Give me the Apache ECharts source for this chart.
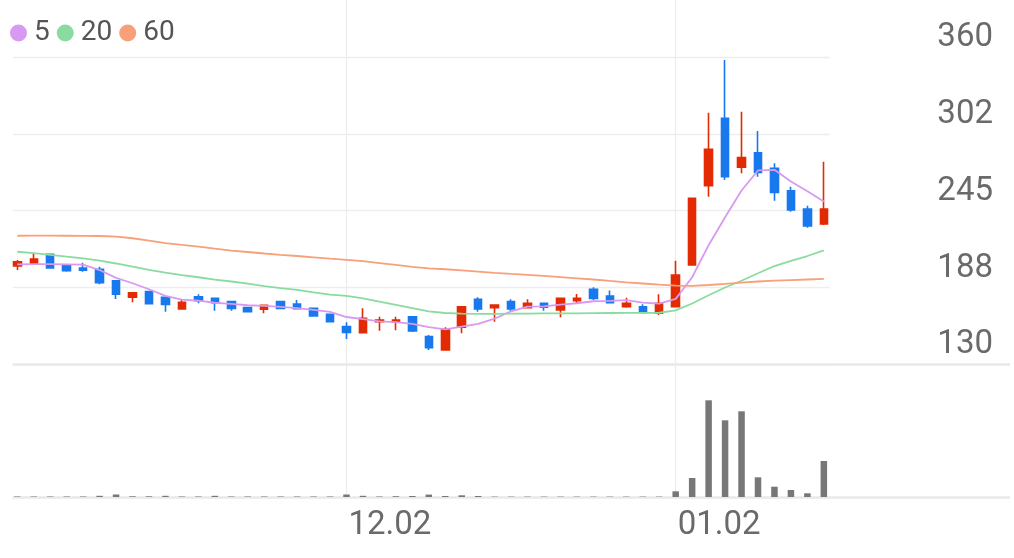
<!DOCTYPE html>
<html><head><meta charset="utf-8">
<script src="https://cdn.jsdelivr.net/npm/echarts/dist/echarts.min.js"></script>
<style>html,body{margin:0;padding:0;background:#fff}#c{width:1014px;height:558px}</style>
</head><body><div id="c"></div>
<script>
// ---- data ----
const dates = ['11.04','11.05','11.06','11.07','11.08','11.11','11.12','11.13','11.14','11.15',
  '11.18','11.19','11.20','11.21','11.22','11.25','11.26','11.27','11.28','11.29',
  '12.02','12.03','12.04','12.05','12.06','12.09','12.10','12.11','12.12','12.13',
  '12.16','12.17','12.18','12.19','12.20','12.23','12.24','12.26','12.27','12.30',
  '01.02','01.03','01.06','01.07','01.08','01.09','01.10','01.13','01.14','01.15'];
const opens  = [203.4,204.9,212.2,204.2,201.9,200.9,192.4,180.0,184.2,180.0,
  171.2,180.4,179.2,176.7,172.2,171.0,176.7,175.0,171.7,167.2,
  158.0,153.4,161.7,161.5,165.4,150.5,140.5,157.5,178.5,172.2,
  176.7,172.2,175.5,170.5,177.4,186.0,181.0,172.9,172.9,168.0,
  172.9,204.2,263.6,314.1,277.4,288.3,276.6,259.8,246.1,234.9];
const closes = [206.6,208.7,201.9,199.9,200.2,190.9,182.2,183.4,175.2,174.7,
  176.2,177.4,175.9,171.7,169.2,174.0,171.7,171.5,166.0,161.7,
  153.7,164.2,163.0,163.0,154.7,142.2,156.0,172.9,171.2,174.2,
  171.2,175.5,172.5,179.2,179.2,179.2,175.9,175.5,168.7,175.5,
  196.7,254.1,290.9,270.3,284.6,273.6,258.6,245.4,233.4,246.1];
const lows   = [200.4,204.2,201.5,199.1,199.1,189.7,178.7,176.2,175.0,169.2,
  171.0,175.5,169.9,169.9,169.0,168.0,171.0,171.3,165.8,161.5,
  148.7,153.0,155.0,155.3,154.0,140.5,140.3,153.0,169.2,161.7,
  169.2,171.8,169.9,165.0,175.0,178.0,175.7,172.2,168.0,166.7,
  172.5,204.0,255.3,267.9,272.9,270.3,252.3,244.0,232.1,234.1];
const highs  = [207.9,212.9,212.5,204.5,205.9,202.9,192.6,183.6,184.5,180.3,
  178.0,182.2,179.4,177.0,172.4,174.2,177.0,178.0,172.0,167.4,
  161.2,171.7,165.4,165.4,165.6,151.7,157.5,173.0,180.0,174.5,
  178.5,178.5,175.8,179.4,182.4,187.5,185.0,179.7,174.7,182.2,
  207.4,254.5,318.3,357.8,319.0,304.6,280.4,262.8,248.6,281.6];
const ma5  = [204.7,204.8,204.8,204.7,204.4,200.4,194.5,190.5,186.0,181.0,
  178.2,177.4,175.9,175.0,174.0,173.5,172.8,171.8,170.6,169.0,
  165.2,163.6,162.0,161.3,160.0,157.6,155.9,158.0,160.0,164.0,
  169.5,173.0,173.2,174.5,175.5,177.0,177.3,177.8,176.0,175.3,
  178.8,195.0,219.0,240.0,260.0,275.0,275.5,266.8,259.4,251.8];
const ma20 = [214.1,213.0,211.7,210.4,209.2,207.4,205.3,202.9,200.6,198.4,
  196.6,195.0,193.2,191.8,190.2,188.4,186.9,185.5,183.6,182.0,
  181.0,179.2,176.8,174.3,171.8,169.5,168.2,167.8,167.6,167.6,
  167.7,167.8,167.9,168.0,168.0,168.1,168.2,168.3,168.3,168.4,
  170.2,175.3,181.5,187.3,192.4,198.0,203.4,207.2,210.9,215.2];
const ma60 = [226.1,226.2,226.2,226.1,226.0,225.9,225.4,224.2,222.5,220.6,
  219.2,218.0,216.4,215.0,213.9,212.8,211.8,210.9,209.9,208.9,
  208.0,207.0,205.6,204.2,202.8,201.7,201.0,200.1,199.2,198.3,
  197.5,196.8,196.0,195.1,194.2,193.3,192.2,191.2,190.3,189.4,
  188.7,188.5,189.2,190.0,191.0,191.8,192.4,192.9,193.3,193.7];
const volumes = [50,50,50,50,50,120,250,70,70,120,
  50,50,120,50,50,50,50,50,50,50,
  250,120,50,80,100,240,100,170,100,40,
  40,40,40,40,40,40,40,40,40,40,
  570,1900,9670,7670,8570,1970,1030,700,370,3600];
const yTickLabels = ['130','188','245','302','360'];
const maNames = ['5','20','60'];

// ---- layout / style ----
const RED = '#e32a02', BLUE = '#1879ee';
const MA_COLORS = ['#d89af0', '#8adba0', '#f7a07a'];
const PLOT_LEFT = 12.7, PRICE_RIGHT = 830, VOL_RIGHT = 1010, FIRST_CX = 17.3, STEP = 16.46;
const xMin = -(FIRST_CX - PLOT_LEFT) / STEP;
const priceXMax = xMin + (PRICE_RIGHT - PLOT_LEFT) / STEP;
const volXMax = xMin + (VOL_RIGHT - PLOT_LEFT) / STEP;
const lastCX = FIRST_CX + (dates.length - 1) * STEP;
const FONT = 'Roboto';

const isMonthStart = (i) => i > 0 && dates[i].slice(0, 2) !== dates[i - 1].slice(0, 2);

const chart = echarts.init(document.getElementById('c'), null, {renderer: 'canvas'});
const maSeries = [ma5, ma20, ma60].map((arr, k) => ({
  type: 'line', name: maNames[k], xAxisIndex: 0, yAxisIndex: 0,
  data: arr.map((v, i) => [i, v]), showSymbol: false, symbol: 'none', silent: true,
  lineStyle: {width: 1.8, color: MA_COLORS[k]}, itemStyle: {color: MA_COLORS[k]}, z: 4
}));

chart.setOption({
  animation: false,
  backgroundColor: '#fff',
  legend: {
    left: 10, top: 19, padding: 0, icon: 'circle', itemWidth: 17, itemHeight: 17, itemGap: 7,
    data: maNames, selectedMode: false,
    textStyle: {fontSize: 28, color: '#555', fontFamily: FONT, padding: [0, 0, 0, 2]}
  },
  grid: [
    {left: PLOT_LEFT, right: 1014 - PRICE_RIGHT, top: 57, height: 307, outerBoundsMode: 'none'},
    {left: PLOT_LEFT, right: 1014 - VOL_RIGHT, top: 364, height: 133, outerBoundsMode: 'none'},
    {left: FIRST_CX, right: 1014 - lastCX, top: 0, height: 497, outerBoundsMode: 'none'}
  ],
  xAxis: [
    {gridIndex: 0, type: 'value', min: xMin, max: priceXMax, show: false},
    {gridIndex: 1, type: 'value', min: xMin, max: volXMax, show: false},
    {gridIndex: 2, type: 'category', data: dates, boundaryGap: false,
      axisLine: {show: false}, axisTick: {show: false},
      splitLine: {show: true, interval: (i) => isMonthStart(i), lineStyle: {color: '#ececec', width: 1.2}},
      axisLabel: {interval: (i) => isMonthStart(i), align: 'left', padding: [0, 0, 0, 2], margin: 12,
        fontSize: 33, color: '#6a6a6a', fontFamily: FONT}}
  ],
  yAxis: [
    {gridIndex: 0, type: 'value', position: 'right', min: 130, max: 360, interval: 57.5,
      axisLine: {show: false}, axisTick: {show: false},
      splitLine: {show: true, lineStyle: {color: '#eeeeee', width: 1.3}},
      axisLabel: {margin: 163, align: 'right', verticalAlign: 'bottom', lineHeight: 38,
        fontSize: 33, color: '#6a6a6a', fontFamily: FONT,
        formatter: (v, idx) => yTickLabels[idx] !== undefined ? yTickLabels[idx] : ''}},
    {gridIndex: 1, type: 'value', min: 0, max: 13300, interval: 13300,
      axisLine: {show: false}, axisTick: {show: false}, axisLabel: {show: false},
      splitLine: {show: true, lineStyle: {color: '#e9e9e9', width: 2.6}}},
    {gridIndex: 2, type: 'value', min: 0, max: 1, show: false, splitLine: {show: false}}
  ],
  series: [
    {type: 'bar', name: 'vol', xAxisIndex: 1, yAxisIndex: 1, silent: true,
      data: volumes.map((v, i) => [i, v]), barWidth: 6.5, itemStyle: {color: '#777777'}},
    {type: 'candlestick', name: 'price', xAxisIndex: 0, yAxisIndex: 0, silent: true,
      data: dates.map((d, i) => [i, opens[i], closes[i], lows[i], highs[i]]),
      encode: {x: 0, y: [1, 2, 3, 4]}, barWidth: 8,
      itemStyle: {color: RED, color0: BLUE, borderColor: RED, borderColor0: BLUE, borderWidth: 1.6}, z: 3},
    ...maSeries
  ]
});
</script>
</body></html>
